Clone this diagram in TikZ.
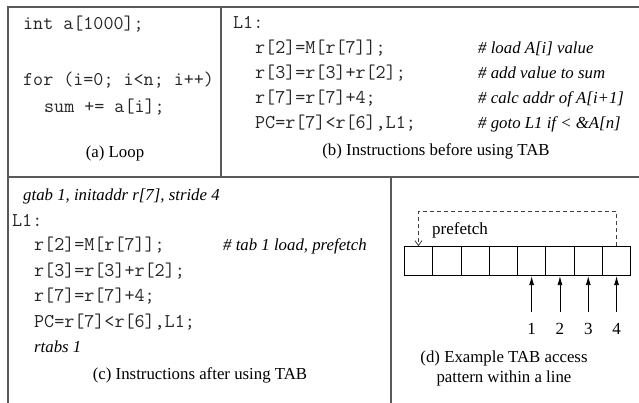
\documentclass[tikz,border=0pt]{standalone}
\usepackage{fontspec}
\setmainfont{Liberation Serif}
\usetikzlibrary{arrows.meta}
\begin{document}
\begin{tikzpicture}[x=1pt,y=-1pt,
  frame/.style={draw=black!65,line width=1.4pt},
  code/.style={font=\fontsize{19.5}{22}\ttfamily,text=black!85,anchor=base west,inner sep=0pt},
  cmt/.style={font=\fontsize{16.8}{20}\selectfont\itshape,anchor=base west,inner sep=0pt},
  capt/.style={font=\fontsize{16.8}{20}\selectfont,anchor=base,inner sep=0pt},
  cell/.style={draw=black,line width=0.8pt,minimum width=28.3pt,minimum height=29pt,inner sep=0pt},
  upar/.style={draw=black,line width=0.8pt,-{Latex[length=9pt,width=5pt]}},
  num/.style={font=\fontsize{17}{20}\selectfont,inner sep=0pt}]
\useasboundingbox (0,0) rectangle (639,403);
\fill[white] (0,0) rectangle (639,403);

% outer frame and panel dividers
\draw[frame] (639,7) -- (8,7) -- (8,403);
\draw[frame] (8,177) -- (639,177);
\draw[frame] (221,7) -- (221,177);
\draw[frame] (391,177) -- (391,403);

% (a) loop
\node[code] (a1) at (23,30) {int a[1000];};
\node[code] (a2) at (23,86) {for (i=0; i<n; i++)};
\node[code] (a3) at (44,113) {sum += a[i];};
\node[capt] (acap) at (115,158) {(a) Loop};

% (b) code before TAB
\node[code] (b0) at (233,29) {L1:};
\node[code] (b1) at (255,54) {r[2]=M[r[7]];};
\node[code] (b2) at (255,79) {r[3]=r[3]+r[2];};
\node[code] (b3) at (255,104) {r[7]=r[7]+4;};
\node[code] (b4) at (255,129) {PC=r[7]<r[6],L1;};
\node[cmt]  (bc1) at (478,54) {\# load A[i] value};
\node[cmt]  (bc2) at (478,79) {\# add value to sum};
\node[cmt]  (bc3) at (478,104) {\# calc addr of A[i+1]};
\node[cmt]  (bc4) at (478,129) {\# goto L1 if < \&A[n]};
\node[capt] (bcap) at (436,156) {(b) Instructions before using TAB};

% (c) code after TAB
\node[cmt]  (c0) at (23,201) {gtab 1, initaddr r[7], stride 4};
\node[code] (cl) at (12,226) {L1:};
\node[code] (d1) at (34,251) {r[2]=M[r[7]];};
\node[code] (d2) at (34,276) {r[3]=r[3]+r[2];};
\node[code] (d3) at (34,301) {r[7]=r[7]+4;};
\node[code] (d4) at (34,327) {PC=r[7]<r[6],L1;};
\node[cmt]  (d5) at (34,352) {rtabs 1};
\node[cmt]  (dc1) at (223,251) {\# tab 1 load, prefetch};
\node[capt] (ccap) at (200,379) {(c) Instructions after using TAB};

% (d) one cache line of eight words
\node[cell] (w1) at (418.45,261.2) {};
\node[cell] (w2) at (446.75,261.2) {};
\node[cell] (w3) at (475.05,261.2) {};
\node[cell] (w4) at (503.35,261.2) {};
\node[cell] (w5) at (531.65,261.2) {};
\node[cell] (w6) at (559.95,261.2) {};
\node[cell] (w7) at (588.25,261.2) {};
\node[cell] (w8) at (616.55,261.2) {};

\draw[black!75,line width=0.8pt,dash pattern=on 4pt off 3pt,-{Straight Barb[length=5pt,width=7pt]}]
  (w8.north) -- ++(0,-34.5) -| (w1.north);
\node[font=\fontsize{17}{20}\selectfont,anchor=base west,inner sep=0pt] (pf) at (432,234) {prefetch};

\coordinate (s5) at (531.65,312);
\coordinate (s6) at (559.95,312);
\coordinate (s7) at (588.25,312);
\coordinate (s8) at (616.55,312);
\draw[upar] (s5) -- (w5.south);
\draw[upar] (s6) -- (w6.south);
\draw[upar] (s7) -- (w7.south);
\draw[upar] (s8) -- (w8.south);
\node[num] (n1) at (531.65,329) {1};
\node[num] (n2) at (559.95,329) {2};
\node[num] (n3) at (588.25,329) {3};
\node[num] (n4) at (616.55,329) {4};

\node[capt] (dcap1) at (504,362) {(d) Example TAB access};
\node[capt] (dcap2) at (504,382) {pattern within a line};
\end{tikzpicture}
\end{document}
